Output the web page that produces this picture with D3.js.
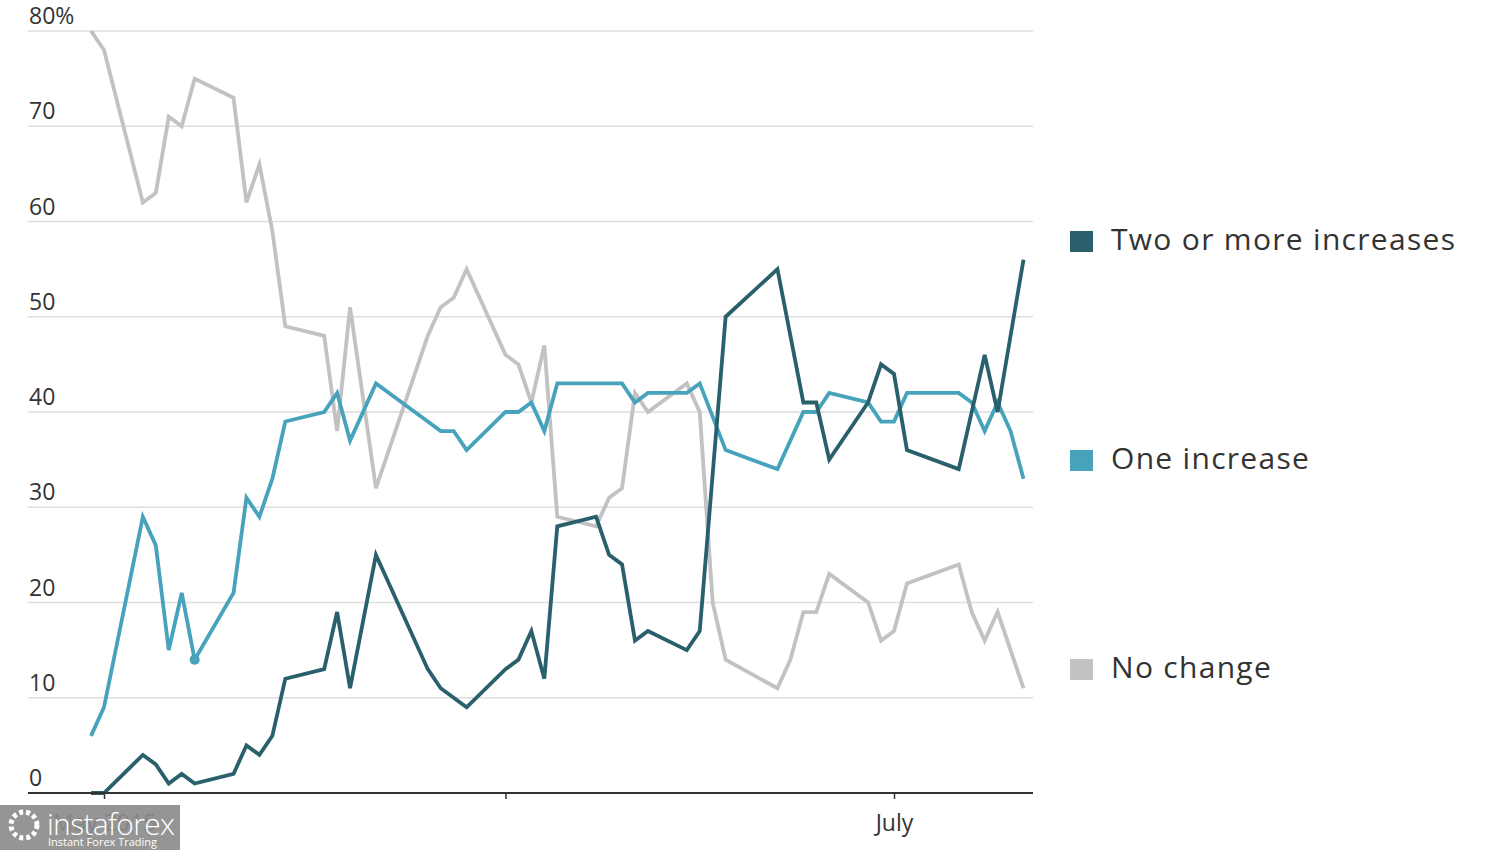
<!DOCTYPE html>
<html>
<head>
<meta charset="utf-8">
<script src="https://cdn.jsdelivr.net/npm/d3@7"></script>
<style>
  body { margin: 0; background: #fff; }
  text { font-family: "Open Sans", "Noto Sans", sans-serif; fill: #333; }
</style>
</head>
<body>
<svg id="chart" width="1500" height="850"></svg>
<script>
// series values (percent)
var noChangeDates = ["04-30","05-01","05-04","05-05","05-06","05-07","05-08","05-11","05-12","05-13","05-14","05-15","05-18","05-19","05-20","05-22","05-26","05-27","05-28","05-29","06-01","06-02","06-03","06-04","06-05","06-08","06-09","06-10","06-11","06-12","06-15","06-16","06-17","06-18","06-22","06-23","06-24","06-25","06-26","06-29","06-30","07-01","07-02","07-06","07-07","07-08","07-09","07-11"];
var noChangeValues = [80,78,62,63,71,70,75,73,62,66,59,49,48,38,51,32,48,51,52,55,46,45,41,47,29,28,31,32,42,40,43,40,20,14,11,14,19,19,23,20,16,17,22,24,19,16,19,11];

var oneDates = ["04-30","05-01","05-04","05-05","05-06","05-07","05-08","05-11","05-12","05-13","05-14","05-15","05-18","05-19","05-20","05-22","05-26","05-27","05-28","05-29","06-01","06-02","06-03","06-04","06-05","06-08","06-09","06-10","06-11","06-12","06-15","06-16","06-18","06-22","06-24","06-25","06-26","06-29","06-30","07-01","07-02","07-06","07-07","07-08","07-09","07-10","07-11"];
var oneValues = [6,9,29,26,15,21,14,21,31,29,33,39,40,42,37,43,39,38,38,36,40,40,41,38,43,43,43,43,41,42,42,43,36,34,40,40,42,41,39,39,42,42,41,38,41,38,33];

var twoDates = ["04-30","05-01","05-04","05-05","05-06","05-07","05-08","05-11","05-12","05-13","05-14","05-15","05-18","05-19","05-20","05-22","05-26","05-27","05-29","06-01","06-02","06-03","06-04","06-05","06-08","06-09","06-10","06-11","06-12","06-15","06-16","06-18","06-22","06-24","06-25","06-26","06-29","06-30","07-01","07-02","07-06","07-08","07-09","07-11"];
var twoValues = [0,0,4,3,1,2,1,2,5,4,6,12,13,19,11,25,13,11,9,13,14,17,12,28,29,25,24,16,17,15,17,50,55,41,41,35,41,45,44,36,34,46,40,56];

var year = 2015;
var yTicks = [0, 10, 20, 30, 40, 50, 60, 70, 80];
var xTickDates = ["05-01", "06-01", "07-01"];
var xTickLabels = ["May 2015", "", "July"];

var seriesNames = ["Two or more increases", "One increase", "No change"];
var seriesColors = ["#29606c", "#47a2bc", "#c2c2c2"];

var parseDay = d3.timeParse("%Y-%m-%d");
function toPoints(dates, values) {
    return dates.map(function (d, i) {
        return { date: parseDay(year + "-" + d), value: values[i] };
    });
}

var series = [
    toPoints(twoDates, twoValues),
    toPoints(oneDates, oneValues),
    toPoints(noChangeDates, noChangeValues)
];

var svg = d3.select("#chart");
var plotLeft = 28, plotRight = 1033, plotTop = 31, plotBottom = 793;

var x = d3.scaleTime()
    .domain([parseDay(year + "-05-01"), parseDay(year + "-07-01")])
    .range([104, 894]);
var y = d3.scaleLinear().domain([0, 80]).range([plotBottom, plotTop]);

// gridlines + y labels (labels sit above each line)
var grid = svg.append("g");
grid.selectAll("line")
    .data(yTicks.filter(function (t) { return t > 0; }))
    .enter().append("line")
    .attr("x1", plotLeft).attr("x2", plotRight)
    .attr("y1", function (d) { return y(d); })
    .attr("y2", function (d) { return y(d); })
    .attr("stroke", "#dedede")
    .attr("stroke-width", 1.5);

grid.selectAll("text")
    .data(yTicks)
    .enter().append("text")
    .attr("x", plotLeft + 1)
    .attr("y", function (d) { return y(d) - 7; })
    .attr("font-size", 23)
    .text(function (d) { return d === 80 ? d + "%" : d; });

// x axis
var xAxis = d3.axisBottom(x)
    .tickValues(xTickDates.map(function (d) { return parseDay(year + "-" + d); }))
    .tickSize(6)
    .tickFormat(function (d, i) { return xTickLabels[i]; });

var ax = svg.append("g")
    .attr("transform", "translate(0," + plotBottom + ")")
    .call(xAxis);
ax.select(".domain").remove();
ax.selectAll(".tick line").attr("stroke", "#333").attr("stroke-width", 1.5);
ax.selectAll(".tick text")
    .attr("font-size", 23)
    .attr("font-family", "Open Sans")
    .attr("fill", "#333")
    .attr("y", 14)
    .attr("dy", "1.05em");

// lines, grey first so teal ones draw on top
var line = d3.line()
    .x(function (d) { return x(d.date); })
    .y(function (d) { return y(d.value); });

var order = [2, 1, 0];
svg.append("g").selectAll("path")
    .data(order)
    .enter().append("path")
    .attr("d", function (i) { return line(series[i]); })
    .attr("fill", "none")
    .attr("stroke", function (i) { return seriesColors[i]; })
    .attr("stroke-width", 3.8)
    .attr("stroke-linejoin", "miter")
    .attr("stroke-linecap", "butt");

// the little dot on the blue line
var dotPoint = series[1][6];
svg.append("circle")
    .attr("cx", x(dotPoint.date))
    .attr("cy", y(dotPoint.value))
    .attr("r", 5)
    .attr("fill", seriesColors[1]);

// baseline
svg.append("line")
    .attr("x1", plotLeft).attr("x2", plotRight)
    .attr("y1", plotBottom).attr("y2", plotBottom)
    .attr("stroke", "#333")
    .attr("stroke-width", 2);

// legend
var legendY = [241, 460, 669];
var legend = svg.append("g").selectAll("g")
    .data(seriesNames)
    .enter().append("g")
    .attr("transform", function (d, i) { return "translate(1070," + legendY[i] + ")"; });
legend.append("rect")
    .attr("x", 0).attr("y", -10)
    .attr("width", 23).attr("height", 21)
    .attr("fill", function (d, i) { return seriesColors[i]; });
legend.append("text")
    .attr("x", 41)
    .attr("y", -2)
    .attr("dy", "0.35em")
    .attr("font-size", 30)
    .attr("letter-spacing", 1.3)
    .text(function (d) { return d; });

// watermark box in bottom-left corner
var wm = svg.append("g").attr("transform", "translate(0,805)");
wm.append("rect")
    .attr("width", 180).attr("height", 45)
    .attr("fill", "#8c8c8c").attr("opacity", 0.92);
wm.append("circle")
    .attr("cx", 24).attr("cy", 20).attr("r", 13)
    .attr("fill", "none").attr("stroke", "#fff").attr("stroke-width", 5)
    .attr("stroke-dasharray", "4 3");
wm.append("text")
    .attr("x", 47).attr("y", 30)
    .attr("font-size", 30)
    .attr("font-family", "Liberation Sans Narrow, Roboto, sans-serif")
    .style("fill", "#fff")
    .style("font-weight", 300)
    .attr("textLength", 128)
    .text("instaforex");
wm.append("text")
    .attr("x", 48).attr("y", 41)
    .attr("font-size", 11)
    .style("fill", "#fff")
    .text("Instant Forex Trading");
</script>
</body>
</html>
